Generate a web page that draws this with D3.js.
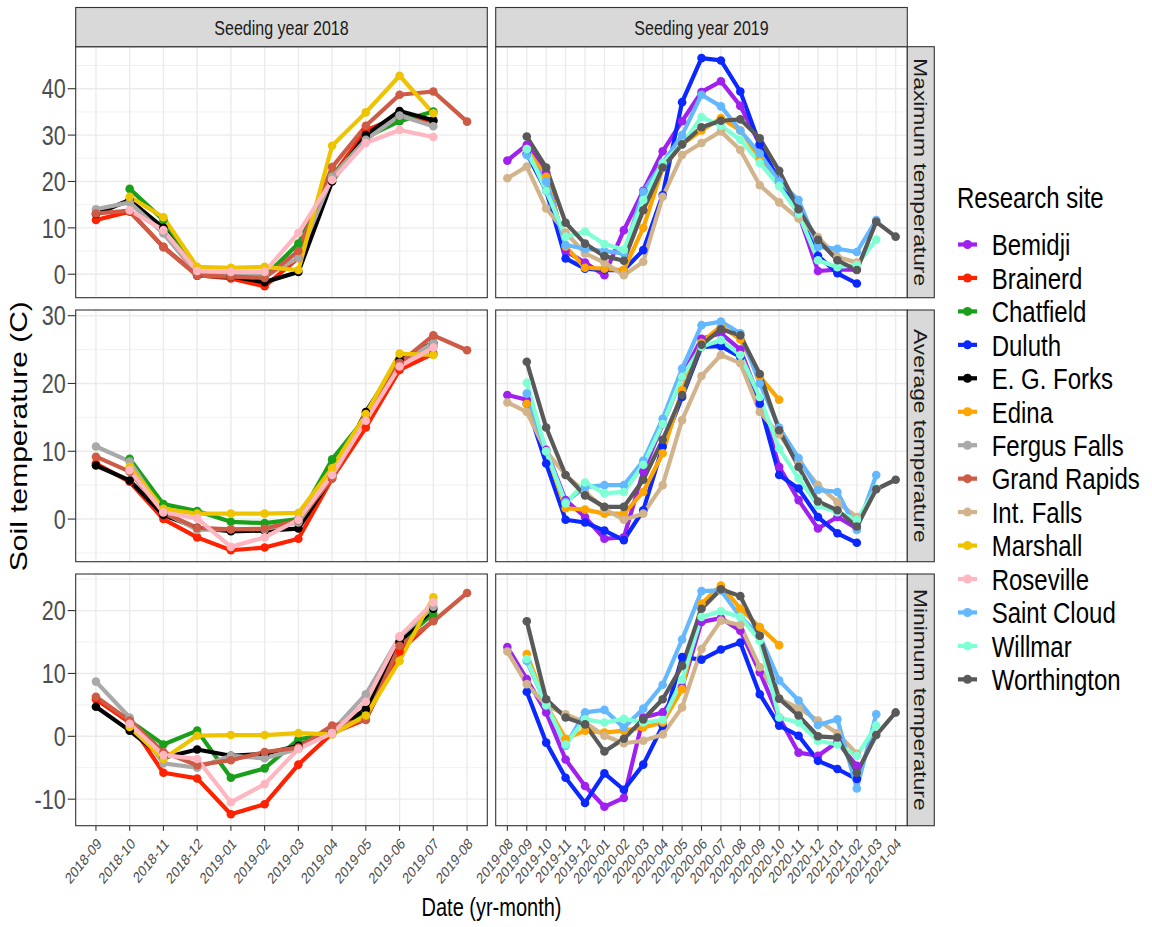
<!DOCTYPE html>
<html>
<head>
<meta charset="utf-8">
<script src="https://cdn.jsdelivr.net/npm/d3@7/dist/d3.min.js"></script>
<style>
  body { margin: 0; background: #ffffff; }
  svg { display: block; }
  text { font-family: "Liberation Sans", Arial, Helvetica, sans-serif; }
</style>
</head>
<body>
<svg id="chart" width="1152" height="927"></svg>
<script>
// ---- Categories -------------------------------------------------------------
const sites = ["Bemidji", "Brainerd", "Chatfield", "Duluth", "E. G. Forks", "Edina",
  "Fergus Falls", "Grand Rapids", "Int. Falls", "Marshall", "Roseville",
  "Saint Cloud", "Willmar", "Worthington"];
const siteColors = ["#A020F0", "#FF2200", "#1A9F1A", "#0A28FF", "#000000", "#FFA500",
  "#A9A9A9", "#CD5B45", "#D2B48C", "#EEC400", "#FFB6C1",
  "#63B8FF", "#7FFFD4", "#595959"];

const seedingYears = ["Seeding year 2018", "Seeding year 2019"];
const measures = ["Maximum temperature", "Average temperature", "Minimum temperature"];

const months2018 = ["2018-09", "2018-10", "2018-11", "2018-12", "2019-01", "2019-02",
  "2019-03", "2019-04", "2019-05", "2019-06", "2019-07", "2019-08"];
const months2019 = ["2019-08", "2019-09", "2019-10", "2019-11", "2019-12", "2020-01",
  "2020-02", "2020-03", "2020-04", "2020-05", "2020-06", "2020-07", "2020-08",
  "2020-09", "2020-10", "2020-11", "2020-12", "2021-01", "2021-02", "2021-03", "2021-04"];

const yTicksMax = [0, 10, 20, 30, 40];
const yTicksAvg = [0, 10, 20, 30];
const yTicksMin = [-10, 0, 10, 20];

// ---- Monthly soil temperature (C), one value per month, null = no record ----
const max2018 = [
  ["Brainerd",     [11.7, 13.5, 5.9, -0.2, -0.9, -2.6, 3.5, 21.0, 31.0, 34.0, 33.0, null]],
  ["Chatfield",    [null, 18.4, 11.7, 0.0, 0.0, -0.5, 6.6, 21.0, 29.5, 33.0, 35.1, null]],
  ["E. G. Forks",  [13.0, 16.0, 10.0, -0.3, -0.5, -1.7, 0.5, 20.0, 30.0, 35.2, 33.2, null]],
  ["Fergus Falls", [14.0, 15.5, 8.8, 0.0, 0.0, -0.5, 3.5, 21.0, 29.0, 34.2, 31.9, null]],
  ["Grand Rapids", [13.1, 13.7, 5.8, -0.3, -0.5, -0.8, 5.0, 23.1, 32.0, 38.7, 39.4, 32.9]],
  ["Marshall",     [null, 16.7, 12.3, 1.6, 1.4, 1.6, 0.9, 27.7, 34.9, 42.8, 34.7, null]],
  ["Roseville",    [null, 13.8, 9.5, 0.7, 0.5, 0.5, 8.9, 20.3, 28.3, 31.1, 29.6, null]]
];
const max2019 = [
  ["Bemidji",     [24.5, 27.9, 22.0, 5.0, 2.5, -0.2, 9.5, 18.0, 26.5, 33.0, 39.3, 41.6, 36.3, 28.0, 20.0, 13.0, 0.7, 1.0, 1.0, null, null]],
  ["Duluth",      [null, 26.0, 18.0, 3.4, 1.2, 0.9, 0.9, 5.2, 17.1, 37.1, 46.6, 46.1, 39.4, 28.0, 20.0, 13.0, 4.0, 0.2, -2.0, null, null]],
  ["Edina",       [null, 27.0, 21.0, 6.0, 1.4, 1.2, 0.9, 10.0, 23.0, 28.0, 31.0, 33.7, 31.0, 25.0, 20.0, null, null, null, null, null, null]],
  ["Int. Falls",  [20.7, 23.2, 14.2, 9.0, 4.5, 2.5, -0.2, 2.7, 16.7, 25.7, 28.3, 30.8, 26.8, 19.2, 15.5, 12.0, 8.0, 3.7, 2.5, null, null]],
  ["Saint Cloud", [null, 25.7, 20.0, 6.3, 5.5, 5.0, 4.5, 17.8, 24.0, 30.0, 38.7, 36.2, 31.0, 26.0, 20.0, 16.0, 5.9, 5.5, 4.8, 11.7, null]],
  ["Willmar",     [null, 27.0, 18.0, 8.1, 9.2, 6.5, 5.3, 16.0, 24.0, 28.0, 33.9, 32.0, 29.0, 24.0, 19.0, 13.0, 3.0, 1.5, 2.0, 7.5, null]],
  ["Worthington", [null, 29.7, 23.0, 11.1, 6.6, 3.9, 2.9, 13.8, 23.0, 28.0, 31.7, 33.1, 33.4, 29.3, 22.3, 14.0, 7.4, 3.0, 0.9, 11.3, 8.1]]
];

const avg2018 = [
  ["Brainerd",     [8.2, 5.5, 0.0, -2.7, -4.6, -4.2, -2.9, 6.0, 13.5, 22.0, 24.4, null]],
  ["Chatfield",    [null, 8.9, 2.2, 1.2, -0.4, -0.6, 0.0, 8.8, 15.0, 23.5, 25.5, null]],
  ["E. G. Forks",  [7.9, 5.7, 0.6, -1.3, -1.8, -1.7, -1.4, 6.3, 15.8, 23.5, 26.0, null]],
  ["Fergus Falls", [10.7, 8.5, 1.0, -1.6, -1.5, -1.5, -0.5, 6.5, 15.0, 23.0, 26.0, null]],
  ["Grand Rapids", [9.2, 7.0, 1.0, -1.3, -1.5, -1.4, -0.2, 6.0, 15.0, 23.0, 27.1, 24.9]],
  ["Marshall",     [null, 7.7, 1.5, 0.8, 0.8, 0.8, 0.9, 7.5, 15.5, 24.4, 24.2, null]],
  ["Roseville",    [null, 7.2, 1.0, 0.1, -4.1, -2.7, -0.1, 6.5, 14.5, 22.5, 25.3, null]]
];
const avg2019 = [
  ["Bemidji",     [18.3, 17.6, 10.2, 2.8, 0.3, -2.9, -2.7, 7.0, 14.0, 21.0, 26.6, 27.4, 25.0, 17.6, 7.7, 2.8, -1.4, 0.3, -1.4, null, null]],
  ["Duluth",      [null, 17.0, 8.2, -0.1, -0.5, -1.7, -3.1, 1.3, 10.7, 18.0, 25.4, 25.5, 23.9, 17.0, 6.5, 4.5, 0.3, -2.1, -3.5, null, null]],
  ["Edina",       [null, 17.0, 10.0, 1.6, 1.4, 0.8, 0.8, 4.0, 9.7, 19.0, 26.0, 28.5, 26.5, 21.0, 17.6, null, null, null, null, null, null]],
  ["Int. Falls",  [17.2, 15.8, 10.0, 6.5, 4.0, 1.5, -0.1, 0.8, 5.0, 14.6, 21.1, 24.2, 23.0, 15.8, 12.5, 8.5, 5.0, 2.5, 0.3, null, null]],
  ["Saint Cloud", [null, 18.5, 10.0, 2.5, 4.7, 5.0, 5.0, 8.6, 14.8, 22.2, 28.6, 29.15, 27.4, 20.0, 13.5, 9.0, 4.3, 4.0, -1.6, 6.5, null]],
  ["Willmar",     [null, 20.1, 10.0, 2.3, 5.4, 3.8, 4.0, 8.0, 14.0, 21.0, 25.4, 26.4, 24.2, 18.0, 10.4, 6.0, 2.0, 1.0, -0.1, 4.5, null]],
  ["Worthington", [null, 23.2, 13.5, 6.5, 3.5, 1.8, 1.8, 5.8, 11.7, 18.3, 25.7, 28.0, 27.1, 21.4, 13.1, 7.7, 2.6, 1.3, -1.1, 4.4, 5.8]]
];

const min2018 = [
  ["Brainerd",     [5.9, 2.2, -5.8, -6.7, -12.4, -10.8, -4.5, 0.5, 2.7, 13.5, 18.5, null]],
  ["Chatfield",    [null, 2.5, -1.3, 0.9, -6.6, -5.1, -0.5, 0.5, 4.0, 15.0, 19.5, null]],
  ["E. G. Forks",  [4.7, 0.9, -3.4, -2.1, -3.1, -2.8, -1.5, 0.8, 4.3, 15.0, 20.3, null]],
  ["Fergus Falls", [8.7, 3.0, -4.3, -5.0, -3.1, -3.5, -2.0, 0.8, 6.7, 15.8, 20.6, null]],
  ["Grand Rapids", [6.3, 2.5, -2.5, -4.6, -3.8, -2.5, -1.8, 1.7, 2.6, 14.4, 18.3, 22.8]],
  ["Marshall",     [null, 1.5, -3.6, 0.1, 0.2, 0.2, 0.5, 0.3, 3.3, 12.0, 22.1, null]],
  ["Roseville",    [null, 2.0, -3.0, -3.6, -10.5, -7.6, -2.0, 0.5, 5.5, 15.9, 21.3, null]]
];
const min2019 = [
  ["Bemidji",     [14.2, 9.1, 3.8, -3.7, -7.9, -11.2, -9.8, 3.0, 3.8, 7.8, 18.2, 18.8, 16.8, 10.2, 3.0, -2.6, -3.1, -0.9, -4.7, null, null]],
  ["Duluth",      [null, 7.1, -1.0, -6.6, -10.6, -5.9, -8.5, -4.5, 1.7, 12.6, 12.2, 13.8, 14.9, 6.7, 1.7, 0.1, -3.9, -5.2, -6.8, null, null]],
  ["Edina",       [null, 13.1, 5.0, -0.4, 0.9, 0.6, 0.9, 1.4, 2.2, 7.5, 21.1, 24.0, 20.3, 17.4, 14.5, null, null, null, null, null, null]],
  ["Int. Falls",  [13.5, 8.3, 4.9, 3.5, 2.2, 0.1, -1.1, -0.7, 0.3, 4.6, 13.9, 18.4, 17.7, 11.0, 6.0, 4.5, 2.5, 0.5, -2.8, null, null]],
  ["Saint Cloud", [null, 12.0, 5.0, -1.5, 3.8, 4.2, 1.4, 4.4, 8.2, 15.4, 23.1, 23.2, 19.0, 16.0, 8.9, 5.7, 1.8, 2.7, -8.3, 3.5, null]],
  ["Willmar",     [null, 12.3, 5.0, -1.3, 2.7, 2.2, 2.8, 2.2, 2.6, 9.0, 19.0, 19.9, 19.0, 15.2, 3.0, 2.2, -0.7, -1.3, -3.1, 1.7, null]],
  ["Worthington", [null, 18.3, 5.9, 3.0, 1.9, -2.4, -0.4, 2.7, 5.9, 11.2, 20.3, 23.4, 22.3, 16.0, 6.0, 3.3, 0.0, -0.2, -5.8, 0.2, 3.8]]
];

// ---- Layout -----------------------------------------------------------------
const SX = 0.8;                       // horizontal compression applied to all text
const colX = [[75.7, 487.3], [495.7, 907.3]];
const rowY = [[46.7, 297.7], [310, 561.7], [574, 825.7]];
const stripTop = 7.5;
const stripRight = 934.3;
const gridColor = "#EBEBEB";
const inkColor = "#333333";
const lineWidth = 4.2;
const pointRadius = 4.3;

const svg = d3.select("#chart");
const color = d3.scaleOrdinal().domain(sites).range(siteColors);

function label(parent, x, y, str, opts = {}) {
  const t = parent.append("text")
    .attr("transform", `translate(${x},${y}) scale(${SX},1) rotate(${opts.angle || 0})`)
    .attr("font-size", opts.size || 14)
    .attr("fill", opts.fill || "#000")
    .attr("text-anchor", opts.anchor || "start")
    .text(str);
  if (opts.dy) t.attr("dy", opts.dy);
  return t;
}

const rows = [
  { ticks: yTicksMax, data: [max2018, max2019] },
  { ticks: yTicksAvg, data: [avg2018, avg2019] },
  { ticks: yTicksMin, data: [min2018, min2019] }
];
const colMonths = [months2018, months2019];

const xScales = colMonths.map((m, c) =>
  d3.scalePoint().domain(m).range(colX[c]).padding(0.6));

const yScales = rows.map((row, r) => {
  const vals = row.data.flatMap(panel => panel.flatMap(s => s[1])).filter(v => v != null);
  const [lo, hi] = d3.extent(vals);
  const pad = (hi - lo) * 0.05;
  return d3.scaleLinear().domain([lo - pad, hi + pad]).range([rowY[r][1], rowY[r][0]]);
});

const lineGen = (x, y) => d3.line()
  .defined(d => d.v != null)
  .x(d => x(d.m))
  .y(d => y(d.v));

rows.forEach((row, r) => {
  const y = yScales[r];
  const [yTop, yBot] = rowY[r];
  const [d0, d1] = y.domain();
  const minor = d3.range(Math.ceil(d0 / 5) * 5, d1, 5).filter(v => v % 10 !== 0);

  colMonths.forEach((months, c) => {
    const x = xScales[c];
    const [xL, xR] = colX[c];
    const g = svg.append("g");

    g.append("rect").attr("x", xL).attr("y", yTop)
      .attr("width", xR - xL).attr("height", yBot - yTop).attr("fill", "#fff");

    // grid
    g.selectAll(".gminor").data(minor).join("line")
      .attr("x1", xL).attr("x2", xR)
      .attr("y1", d => y(d)).attr("y2", d => y(d))
      .attr("stroke", gridColor).attr("stroke-width", 0.7);
    g.selectAll(".gmajor").data(row.ticks).join("line")
      .attr("x1", xL).attr("x2", xR)
      .attr("y1", d => y(d)).attr("y2", d => y(d))
      .attr("stroke", gridColor).attr("stroke-width", 1.4);
    g.selectAll(".gx").data(months).join("line")
      .attr("x1", d => x(d)).attr("x2", d => x(d))
      .attr("y1", yTop).attr("y2", yBot)
      .attr("stroke", gridColor).attr("stroke-width", 1.4);

    // series: all lines first, then all points
    const series = row.data[c].map(([site, vals]) => ({
      site,
      pts: vals.map((v, i) => ({ m: months[i], v }))
    }));
    const line = lineGen(x, y);
    g.selectAll(".series").data(series).join("path")
      .attr("d", s => line(s.pts))
      .attr("fill", "none")
      .attr("stroke", s => color(s.site))
      .attr("stroke-width", lineWidth)
      .attr("stroke-linejoin", "round");
    series.forEach(s => {
      g.selectAll(null).data(s.pts.filter(p => p.v != null)).join("circle")
        .attr("cx", p => x(p.m)).attr("cy", p => y(p.v))
        .attr("r", pointRadius).attr("fill", color(s.site));
    });

    // border
    g.append("rect").attr("x", xL).attr("y", yTop)
      .attr("width", xR - xL).attr("height", yBot - yTop)
      .attr("fill", "none").attr("stroke", inkColor).attr("stroke-width", 1.1);

    // top strips
    if (r === 0) {
      svg.append("rect").attr("x", xL).attr("y", stripTop)
        .attr("width", xR - xL).attr("height", yTop - stripTop)
        .attr("fill", "#D9D9D9").attr("stroke", inkColor).attr("stroke-width", 1.1);
      label(svg, (xL + xR) / 2, 34.5, seedingYears[c],
        { size: 20, anchor: "middle", fill: "#1A1A1A" });
    }

    // x axis
    if (r === rows.length - 1) {
      months.forEach(m => {
        svg.append("line").attr("x1", x(m)).attr("x2", x(m))
          .attr("y1", yBot).attr("y2", yBot + 5)
          .attr("stroke", inkColor).attr("stroke-width", 1.1);
        label(svg, x(m), yBot + 11, m,
          { size: 15.5, anchor: "end", angle: -45, fill: "#4D4D4D", dy: "0.72em" });
      });
    }
  });

  // y axis
  row.ticks.forEach(t => {
    svg.append("line").attr("x1", colX[0][0] - 8).attr("x2", colX[0][0])
      .attr("y1", y(t)).attr("y2", y(t))
      .attr("stroke", inkColor).attr("stroke-width", 1.1);
    label(svg, colX[0][0] - 10, y(t), String(t),
      { size: 27, anchor: "end", fill: "#4D4D4D", dy: "0.36em" });
  });

  // right strip
  svg.append("rect").attr("x", colX[1][1]).attr("y", yTop)
    .attr("width", stripRight - colX[1][1]).attr("height", yBot - yTop)
    .attr("fill", "#D9D9D9").attr("stroke", inkColor).attr("stroke-width", 1.1);
  label(svg, (colX[1][1] + stripRight) / 2, (yTop + yBot) / 2, measures[r],
    { size: 22.8, anchor: "middle", angle: 90, fill: "#1A1A1A", dy: "0.36em" });
});

// axis titles
label(svg, 18, (rowY[0][0] + rowY[2][1]) / 2, "Soil temperature (C)",
  { size: 30, anchor: "middle", angle: -90, dy: "0.36em" });
label(svg, (colX[0][0] + colX[1][1]) / 2, 916, "Date (yr-month)",
  { size: 25, anchor: "middle" });

// legend
const legend = svg.append("g");
label(legend, 957, 207.5, "Research site", { size: 30 });
sites.forEach((s, i) => {
  const cy = 244.5 + i * 33.45;
  legend.append("line").attr("x1", 958).attr("x2", 977)
    .attr("y1", cy).attr("y2", cy)
    .attr("stroke", color(s)).attr("stroke-width", lineWidth);
  legend.append("circle").attr("cx", 967.5).attr("cy", cy).attr("r", 4.5)
    .attr("fill", color(s));
  label(legend, 991.7, cy, s, { size: 30, dy: "0.36em" });
});
</script>
</body>
</html>
